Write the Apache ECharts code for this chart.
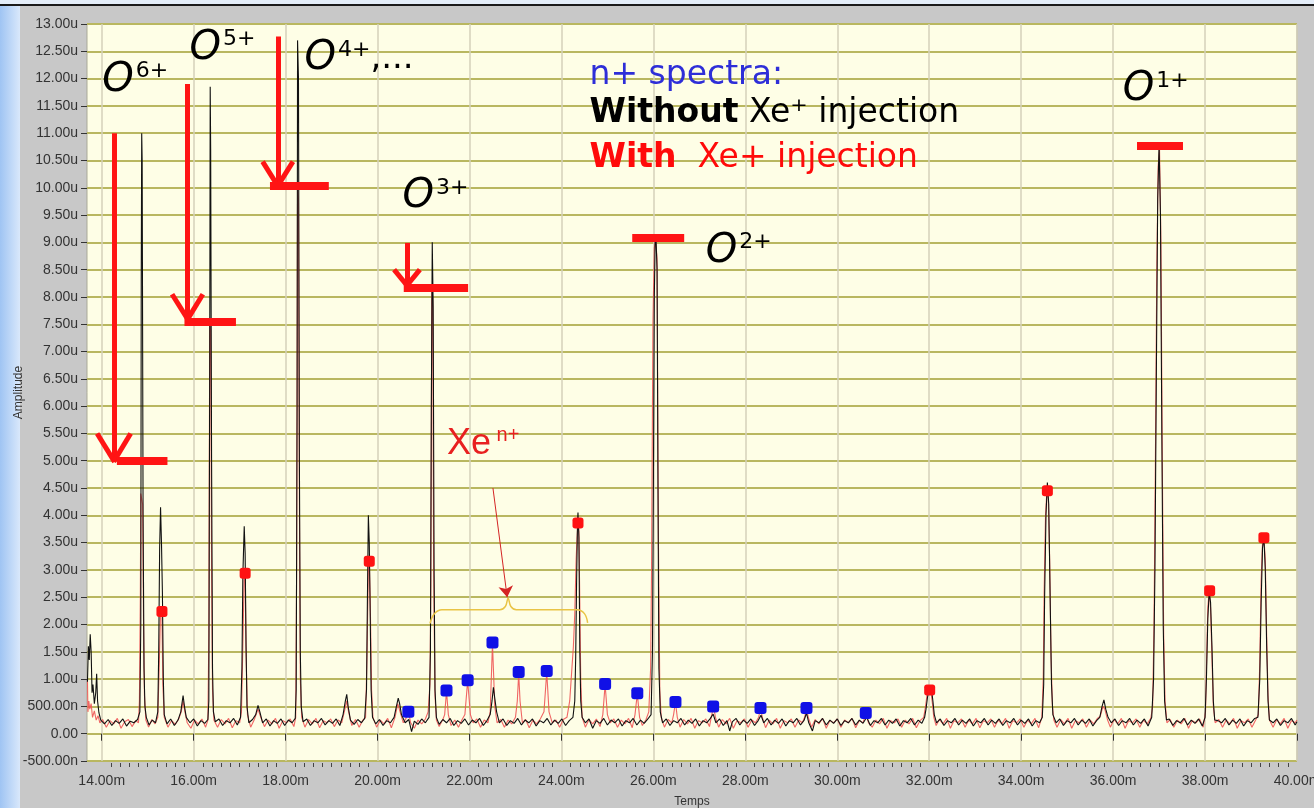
<!DOCTYPE html>
<html><head><meta charset="utf-8">
<script src="https://cdn.jsdelivr.net/npm/echarts@6/dist/echarts.min.js"></script>
<style>html,body{margin:0;padding:0;background:#c8c8c8}#c{width:1314px;height:808px}</style>
</head><body><div id="c"></div>
<script>
// ---- data (time in ms, amplitude in micro-units) ----
const xTickValues = [14,16,18,20,22,24,26,28,30,32,34,36,38,40];

const withoutXe = [
[13.69,0.95],[13.71,1.6],[13.73,1.35],[13.75,1.82],[13.77,1.5],[13.79,0.75],[13.81,0.9],[13.84,0.55],[13.87,0.75],[13.89,1.1],[13.91,0.6],[13.94,0.38],[13.98,0.25],
[14.06,0.18],[14.14,0.26],[14.22,0.15],[14.3,0.24],[14.38,0.19],[14.46,0.27],[14.54,0.14],[14.62,0.23],[14.7,0.2],[14.78,0.26],
[14.83,0.4],[14.85,2.0],[14.86,8.3],[14.87,11.0],[14.88,10.5],[14.9,4.0],[14.92,1.2],[14.94,0.5],[14.97,0.3],
[15.03,0.16],[15.1,0.25],[15.17,0.2],[15.22,0.4],[15.24,1.5],[15.26,3.4],[15.28,4.15],[15.3,3.5],[15.32,2.6],[15.34,1.0],[15.36,0.35],
[15.42,0.18],[15.5,0.27],[15.58,0.15],[15.66,0.25],[15.72,0.4],[15.77,0.7],[15.8,0.5],[15.84,0.3],[15.92,0.2],[16.0,0.27],[16.08,0.14],[16.16,0.24],[16.24,0.19],[16.31,0.26],
[16.33,0.6],[16.35,7.0],[16.36,11.85],[16.37,10.7],[16.39,5.0],[16.41,1.2],[16.43,0.4],[16.47,0.22],
[16.55,0.27],[16.63,0.15],[16.71,0.24],[16.79,0.2],[16.87,0.28],[16.95,0.16],[17.02,0.3],
[17.05,1.2],[17.07,2.9],[17.09,3.5],[17.1,3.8],[17.12,3.3],[17.14,1.6],[17.16,0.5],[17.2,0.2],
[17.28,0.26],[17.35,0.35],[17.4,0.52],[17.44,0.4],[17.5,0.2],[17.58,0.27],[17.66,0.14],[17.74,0.24],[17.82,0.19],[17.9,0.27],[17.98,0.15],[18.06,0.25],[18.14,0.2],[18.21,0.28],
[18.23,0.8],[18.25,6.0],[18.26,12.7],[18.28,12.0],[18.3,5.0],[18.32,1.5],[18.34,0.5],[18.38,0.22],
[18.46,0.27],[18.54,0.15],[18.62,0.24],[18.7,0.2],[18.78,0.28],[18.86,0.16],[18.94,0.24],[19.02,0.19],[19.1,0.27],[19.18,0.15],[19.25,0.35],[19.3,0.6],[19.33,0.72],[19.36,0.5],[19.41,0.25],[19.49,0.17],[19.57,0.26],[19.65,0.2],[19.72,0.28],
[19.76,0.8],[19.78,2.5],[19.8,4.0],[19.82,3.5],[19.84,2.2],[19.86,0.8],[19.89,0.3],
[19.96,0.18],[20.04,0.26],[20.12,0.15],[20.2,0.24],[20.28,0.2],[20.36,0.3],[20.41,0.5],[20.45,0.65],[20.48,0.55],[20.52,0.35],[20.6,0.2],[20.68,0.26],[20.74,0.04],[20.8,0.23],[20.88,0.17],[20.96,0.27],[21.04,0.2],[21.12,0.3],
[21.15,1.5],[21.17,6.0],[21.19,9.0],[21.21,7.8],[21.23,3.0],[21.25,0.8],[21.28,0.3],
[21.34,0.17],[21.42,0.26],[21.5,0.2],[21.58,0.28],[21.66,0.15],[21.74,0.24],[21.82,0.19],[21.9,0.27],[21.98,0.16],[22.06,0.25],[22.14,0.2],[22.22,0.28],[22.3,0.15],[22.38,0.24],[22.45,0.35],[22.49,0.6],[22.52,0.85],[22.55,0.65],[22.59,0.4],[22.65,0.2],
[22.73,0.27],[22.81,0.15],[22.89,0.24],[22.97,0.19],[23.05,0.28],[23.13,0.16],[23.21,0.25],[23.29,0.2],[23.37,0.27],[23.45,0.14],[23.53,0.24],[23.61,0.2],[23.69,0.28],[23.77,0.16],[23.85,0.25],[23.93,0.19],[24.01,0.27],[24.09,0.15],[24.17,0.24],[24.25,0.3],
[24.29,0.6],[24.31,1.4],[24.33,2.8],[24.35,3.9],[24.36,4.05],[24.38,3.6],[24.4,1.5],[24.42,0.6],[24.45,0.3],
[24.52,0.2],[24.6,0.27],[24.68,0.1],[24.76,0.24],[24.84,0.19],[24.92,0.28],[25.0,0.16],[25.08,0.25],[25.16,0.2],[25.24,0.27],[25.32,0.14],[25.4,0.24],[25.48,0.2],[25.56,0.28],[25.64,0.16],[25.72,0.25],[25.8,0.19],[25.88,0.27],[25.95,0.35],
[25.98,1.5],[26.0,4.5],[26.02,8.0],[26.04,9.1],[26.06,9.0],[26.08,8.5],[26.1,4.5],[26.12,1.2],[26.15,0.4],
[26.2,0.2],[26.28,0.27],[26.36,0.15],[26.44,0.24],[26.52,0.2],[26.6,0.28],[26.68,0.16],[26.76,0.25],[26.84,0.19],[26.92,0.27],[27.0,0.14],[27.08,0.24],[27.16,0.2],[27.24,0.28],[27.3,0.36],[27.36,0.2],[27.44,0.27],[27.52,0.15],[27.6,0.24],[27.66,0.05],[27.72,0.22],[27.8,0.28],[27.88,0.16],[27.96,0.25],[28.04,0.19],[28.12,0.27],[28.2,0.15],[28.28,0.24],[28.34,0.34],[28.4,0.2],[28.48,0.28],[28.56,0.16],[28.64,0.25],[28.72,0.19],[28.8,0.27],[28.88,0.14],[28.96,0.24],[29.04,0.2],[29.12,0.28],[29.2,0.16],[29.28,0.25],[29.33,0.38],[29.38,0.2],[29.46,0.05],[29.52,0.24],[29.6,0.2],[29.68,0.28],[29.76,0.16],[29.84,0.25],[29.92,0.19],[30.0,0.27],[30.08,0.15],[30.16,0.24],[30.24,0.2],[30.32,0.28],[30.4,0.16],[30.48,0.25],[30.56,0.19],[30.64,0.3],[30.72,0.15],[30.8,0.24],[30.88,0.2],[30.96,0.28],[31.04,0.16],[31.12,0.25],[31.2,0.19],[31.28,0.27],[31.36,0.14],[31.44,0.24],[31.52,0.2],[31.6,0.28],[31.68,0.16],[31.76,0.25],[31.84,0.19],[31.9,0.3],
[31.93,0.45],[31.96,0.65],[31.99,0.8],[32.02,0.72],[32.05,0.82],[32.08,0.6],[32.11,0.35],[32.16,0.2],
[32.24,0.27],[32.32,0.15],[32.4,0.24],[32.48,0.2],[32.56,0.28],[32.64,0.16],[32.72,0.25],[32.8,0.19],[32.88,0.27],[32.96,0.14],[33.04,0.24],[33.12,0.2],[33.2,0.28],[33.28,0.16],[33.36,0.25],[33.44,0.19],[33.52,0.27],[33.6,0.15],[33.68,0.24],[33.76,0.2],[33.84,0.28],[33.92,0.16],[34.0,0.25],[34.08,0.19],[34.16,0.27],[34.24,0.14],[34.32,0.24],[34.4,0.2],[34.46,0.3],
[34.49,0.9],[34.51,2.5],[34.54,4.0],[34.57,4.6],[34.6,4.2],[34.63,2.5],[34.66,0.9],[34.69,0.35],
[34.76,0.2],[34.84,0.27],[34.92,0.15],[35.0,0.24],[35.08,0.2],[35.16,0.28],[35.24,0.16],[35.32,0.25],[35.4,0.19],[35.48,0.27],[35.56,0.14],[35.64,0.24],[35.71,0.3],[35.76,0.5],[35.8,0.62],[35.84,0.45],[35.89,0.3],[35.96,0.2],[36.04,0.27],[36.12,0.15],[36.2,0.24],[36.28,0.2],[36.36,0.28],[36.44,0.16],[36.52,0.25],[36.6,0.19],[36.68,0.27],[36.76,0.14],[36.84,0.3],
[36.88,1.0],[36.91,3.0],[36.94,6.5],[36.97,9.8],[37.0,10.8],[37.03,9.5],[37.06,5.5],[37.09,2.0],[37.12,0.6],[37.16,0.25],
[37.22,0.27],[37.3,0.15],[37.38,0.24],[37.46,0.2],[37.54,0.28],[37.62,0.16],[37.7,0.25],[37.78,0.19],[37.86,0.27],[37.94,0.14],[38.0,0.3],
[38.03,1.0],[38.06,2.1],[38.09,2.6],[38.12,2.4],[38.15,1.6],[38.18,0.6],[38.21,0.25],
[38.28,0.24],[38.36,0.2],[38.44,0.28],[38.52,0.16],[38.6,0.25],[38.68,0.19],[38.76,0.27],[38.84,0.14],[38.92,0.24],[39.0,0.2],[39.08,0.28],[39.15,0.3],
[39.19,1.0],[39.22,2.4],[39.25,3.4],[39.28,3.6],[39.31,3.0],[39.34,1.6],[39.37,0.6],[39.4,0.25],
[39.48,0.2],[39.56,0.27],[39.64,0.15],[39.72,0.24],[39.8,0.2],[39.88,0.28],[39.96,0.16],[40.0,0.22]
];

const withXe = [
[13.69,1.0],[13.7,0.4],[13.72,0.6],[13.74,0.45],[13.77,0.55],[13.8,0.3],[13.84,0.42],[13.88,0.25],[13.92,0.33],[13.96,0.2],
[14.02,0.26],[14.1,0.12],[14.18,0.24],[14.26,0.18],[14.34,0.28],[14.42,0.1],[14.5,0.22],[14.58,0.26],[14.66,0.13],[14.74,0.24],[14.8,0.2],
[14.82,0.6],[14.84,2.5],[14.85,4.4],[14.87,4.3],[14.89,4.2],[14.91,2.0],[14.93,0.7],[14.96,0.25],
[15.02,0.12],[15.09,0.26],[15.16,0.18],[15.22,0.3],[15.25,1.2],[15.28,2.25],[15.31,2.2],[15.33,0.9],[15.36,0.3],
[15.44,0.12],[15.52,0.24],[15.6,0.17],[15.68,0.28],[15.73,0.4],[15.77,0.6],[15.81,0.4],[15.86,0.2],[15.94,0.1],[16.02,0.25],[16.1,0.18],[16.18,0.27],[16.26,0.12],[16.31,0.25],
[16.33,1.8],[16.35,7.6],[16.37,7.4],[16.39,3.0],[16.41,0.8],[16.44,0.25],
[16.52,0.12],[16.6,0.26],[16.68,0.18],[16.76,0.28],[16.84,0.11],[16.92,0.24],[17.0,0.2],[17.04,0.4],
[17.07,1.6],[17.1,2.9],[17.12,2.95],[17.14,1.5],[17.17,0.35],
[17.24,0.12],[17.32,0.26],[17.4,0.45],[17.46,0.3],[17.54,0.13],[17.62,0.25],[17.7,0.18],[17.78,0.28],[17.86,0.1],[17.94,0.24],[18.02,0.2],[18.1,0.27],[18.18,0.13],[18.22,0.3],
[18.24,3.0],[18.26,10.0],[18.28,9.8],[18.3,4.3],[18.32,1.0],[18.35,0.3],
[18.42,0.12],[18.5,0.26],[18.58,0.18],[18.66,0.28],[18.74,0.11],[18.82,0.24],[18.9,0.2],[18.98,0.27],[19.06,0.13],[19.14,0.25],[19.22,0.2],[19.29,0.45],[19.33,0.6],[19.37,0.4],[19.44,0.15],[19.52,0.26],[19.6,0.12],[19.68,0.25],[19.74,0.3],
[19.77,1.4],[19.8,3.0],[19.82,3.15],[19.84,2.5],[19.87,0.8],[19.9,0.3],
[19.98,0.12],[20.06,0.25],[20.14,0.18],[20.22,0.28],[20.3,0.11],[20.38,0.3],[20.44,0.55],[20.49,0.4],[20.56,0.2],[20.62,0.28],[20.67,0.42],[20.72,0.2],[20.8,0.1],[20.88,0.25],[20.96,0.18],[21.04,0.27],[21.1,0.4],[21.14,0.9],
[21.16,2.7],[21.18,8.15],[21.2,8.0],[21.22,3.0],[21.25,0.7],[21.28,0.25],
[21.34,0.13],[21.42,0.26],[21.46,0.35],[21.5,0.78],[21.54,0.35],[21.6,0.15],[21.68,0.25],[21.76,0.12],[21.84,0.26],[21.9,0.35],[21.96,0.97],[22.02,0.35],[22.08,0.2],[22.16,0.27],[22.24,0.12],[22.32,0.25],[22.4,0.2],[22.45,0.4],[22.5,1.65],[22.55,0.5],[22.6,0.2],[22.68,0.26],[22.76,0.12],[22.84,0.25],[22.92,0.18],[23.0,0.3],[23.04,0.6],[23.07,1.1],[23.1,0.6],[23.15,0.2],[23.22,0.26],[23.3,0.11],[23.38,0.25],[23.46,0.18],[23.54,0.27],[23.62,0.4],[23.68,1.13],[23.73,0.4],[23.8,0.2],[23.88,0.25],[23.96,0.12],[24.04,0.26],[24.12,0.3],[24.18,0.6],[24.22,1.1],[24.26,1.6],
[24.29,2.2],[24.32,3.2],[24.34,3.6],[24.36,3.85],[24.38,3.7],[24.4,2.4],[24.42,1.0],[24.45,0.3],
[24.52,0.12],[24.6,0.26],[24.68,0.18],[24.76,0.27],[24.84,0.13],[24.9,0.35],[24.95,0.9],[25.0,0.35],[25.06,0.2],[25.14,0.27],[25.22,0.12],[25.3,0.25],[25.38,0.18],[25.46,0.28],[25.54,0.11],[25.6,0.35],[25.65,0.73],[25.7,0.3],[25.76,0.15],[25.84,0.26],[25.9,0.4],[25.94,1.2],
[25.96,3.0],[25.99,7.5],[26.02,8.9],[26.05,9.05],[26.08,8.7],[26.11,3.5],[26.14,0.8],[26.17,0.3],
[26.24,0.12],[26.32,0.26],[26.4,0.2],[26.44,0.35],[26.48,0.58],[26.52,0.3],[26.58,0.12],[26.66,0.26],[26.74,0.18],[26.82,0.28],[26.9,0.1],[26.98,0.24],[27.06,0.2],[27.14,0.27],[27.22,0.13],[27.27,0.35],[27.31,0.5],[27.35,0.3],[27.42,0.12],[27.5,0.26],[27.58,0.18],[27.66,0.28],[27.74,0.1],[27.82,0.24],[27.9,0.2],[27.98,0.27],[28.06,0.12],[28.14,0.25],[28.22,0.2],[28.29,0.3],[28.33,0.47],[28.37,0.3],[28.44,0.11],[28.52,0.25],[28.6,0.18],[28.68,0.28],[28.76,0.1],[28.84,0.24],[28.92,0.2],[29.0,0.27],[29.08,0.12],[29.16,0.25],[29.24,0.2],[29.29,0.3],[29.33,0.47],[29.37,0.3],[29.44,0.12],[29.52,0.26],[29.6,0.18],[29.68,0.28],[29.76,0.1],[29.84,0.24],[29.92,0.2],[30.0,0.27],[30.08,0.12],[30.16,0.25],[30.24,0.2],[30.32,0.28],[30.4,0.11],[30.48,0.24],[30.56,0.2],[30.62,0.37],[30.68,0.2],[30.76,0.12],[30.84,0.25],[30.92,0.18],[31.0,0.28],[31.08,0.1],[31.16,0.24],[31.24,0.2],[31.32,0.27],[31.4,0.12],[31.48,0.25],[31.56,0.18],[31.64,0.28],[31.72,0.11],[31.8,0.24],[31.88,0.3],
[31.92,0.5],[31.95,0.7],[31.98,0.8],[32.01,0.82],[32.04,0.75],[32.07,0.55],[32.1,0.3],[32.15,0.15],
[32.22,0.26],[32.3,0.18],[32.38,0.28],[32.46,0.1],[32.54,0.24],[32.62,0.2],[32.7,0.27],[32.78,0.12],[32.86,0.25],[32.94,0.18],[33.02,0.28],[33.1,0.11],[33.18,0.24],[33.26,0.2],[33.34,0.27],[33.42,0.12],[33.5,0.25],[33.58,0.18],[33.66,0.28],[33.74,0.1],[33.82,0.24],[33.9,0.2],[33.98,0.27],[34.06,0.12],[34.14,0.25],[34.22,0.18],[34.3,0.28],[34.38,0.11],[34.45,0.3],
[34.48,1.0],[34.5,2.6],[34.53,4.0],[34.56,4.45],[34.59,4.3],[34.62,3.2],[34.65,1.4],[34.68,0.5],[34.71,0.25],
[34.78,0.12],[34.86,0.26],[34.94,0.18],[35.02,0.28],[35.1,0.1],[35.18,0.24],[35.26,0.2],[35.34,0.27],[35.42,0.12],[35.5,0.25],[35.58,0.18],[35.66,0.28],[35.72,0.32],[35.78,0.5],[35.82,0.45],[35.88,0.25],[35.94,0.12],[36.02,0.26],[36.1,0.18],[36.18,0.28],[36.26,0.1],[36.34,0.24],[36.42,0.2],[36.5,0.27],[36.58,0.12],[36.66,0.25],[36.74,0.18],[36.82,0.28],[36.86,0.5],
[36.89,2.0],[36.92,5.0],[36.95,8.5],[36.98,10.4],[37.01,10.7],[37.04,9.0],[37.07,5.0],[37.1,1.8],[37.13,0.6],[37.17,0.2],
[37.24,0.26],[37.32,0.12],[37.4,0.25],[37.48,0.18],[37.56,0.28],[37.64,0.1],[37.72,0.24],[37.8,0.2],[37.88,0.27],[37.96,0.12],[38.01,0.4],
[38.03,1.2],[38.06,2.3],[38.09,2.62],[38.12,2.3],[38.15,1.4],[38.18,0.5],[38.22,0.2],
[38.3,0.26],[38.38,0.12],[38.46,0.25],[38.54,0.18],[38.62,0.28],[38.7,0.1],[38.78,0.24],[38.86,0.2],[38.94,0.27],[39.02,0.12],[39.1,0.25],[39.16,0.35],
[39.19,1.3],[39.22,2.8],[39.25,3.5],[39.28,3.59],[39.31,3.2],[39.34,1.8],[39.37,0.7],[39.4,0.25],
[39.48,0.12],[39.56,0.26],[39.64,0.18],[39.72,0.28],[39.8,0.1],[39.88,0.24],[39.96,0.2],[40.0,0.25]
];

// O peaks with Xe (red squares) and Xe peaks (blue squares)
const oPeakMarkers = [[15.31,2.24],[17.12,2.94],[19.82,3.16],[24.36,3.86],[32.01,0.8],[34.57,4.45],[38.1,2.62],[39.28,3.59]];
const xePeakMarkers = [[20.67,0.4],[21.5,0.79],[21.96,0.98],[22.5,1.67],[23.07,1.13],[23.68,1.15],[24.95,0.91],[25.65,0.74],[26.48,0.58],[27.3,0.5],[28.33,0.47],[29.33,0.47],[30.62,0.38]];

const ionNames = ['6+','5+','4+','3+','2+','1+'];

// ---- chart ----
const chart = echarts.init(document.getElementById('c'), null, {renderer:'canvas'});

function fmtY(v){
  if (Math.abs(v) < 1e-9) return '0.00';
  if (Math.abs(v) < 1) return (v*1000).toFixed(2) + 'n';
  return v.toFixed(2) + 'u';
}
const minorTicks = [];
for (let i = 0; i <= 130; i++) { const t = +(14 + i*0.2).toFixed(2); if (Math.abs(t/2 - Math.round(t/2)) > 1e-6) minorTicks.push(t); }

const RED = '#ff1414';
function seg(a, b, w){ return {coords:[a,b], lineStyle:{width:w}}; }
const arrowSegs = [
  // O6+
  seg([14.27,11.0],[14.27,5.05],5), seg([13.9,5.5],[14.28,4.98],5), seg([14.63,5.5],[14.26,4.98],5), seg([14.33,5.0],[15.43,5.0],8),
  // O5+
  seg([15.87,11.9],[15.87,7.65],5), seg([15.53,8.05],[15.88,7.58],5), seg([16.2,8.05],[15.86,7.58],5), seg([15.8,7.55],[16.92,7.55],8),
  // O4+
  seg([17.83,12.77],[17.83,10.1],5), seg([17.5,10.48],[17.84,10.02],5), seg([18.16,10.48],[17.82,10.02],5), seg([17.66,10.03],[18.94,10.03],8),
  // O3+
  seg([20.64,8.99],[20.64,8.27],5), seg([20.36,8.5],[20.65,8.2],5), seg([20.92,8.5],[20.63,8.2],5), seg([20.57,8.17],[21.97,8.17],8),
  // O2+
  seg([25.54,9.08],[26.67,9.08],8),
  // O1+
  seg([36.52,10.77],[37.52,10.77],8)
];

const supTop = {fontSize:22, fontFamily:'DejaVu Sans', color:'#000', verticalAlign:'top', padding:[0,0,0,2]};
const oStyle = {fontSize:40, fontFamily:'DejaVu Sans', fontStyle:'italic', color:'#000'};
function ion(t, v, sup, extra){
  return {value:[t,v], label:{formatter:'{o|O}{s|' + sup + '}' + (extra ? '{c|' + extra + '}' : '')}};
}
const ionLabelData = [
  ion(14.0,11.96,ionNames[0]), ion(15.9,12.55,ionNames[1]), ion(18.4,12.36,ionNames[2],',...'),
  ion(20.53,9.83,ionNames[3]), ion(27.13,8.83,ionNames[4]), ion(36.2,11.79,ionNames[5])
];

const legendData = [
  {value:[24.6,12.06], label:{formatter:'{b|n+ spectra:}'}},
  {value:[24.6,11.36], label:{formatter:'{k|Without}{n| Xe\u207A injection}'}},
  {value:[24.6,10.53], label:{formatter:'{r|With}{rn|  Xe+ injection}'}}
];

const brace = [[21.14,2.02],[21.24,2.2],[21.4,2.27],[22.66,2.27],[22.78,2.33],[22.84,2.48],[22.9,2.33],[23.02,2.27],[24.34,2.27],[24.5,2.2],[24.57,2.03]];

const textHolder = {color:'transparent', opacity:1};

const option = {
  backgroundColor:'#c8c8c8',
  animation:false,
  textStyle:{fontFamily:'Liberation Sans'},
  graphic:[
    {type:'rect', left:0, top:0, z:-10, shape:{width:20, height:808}, style:{fill:new echarts.graphic.LinearGradient(0,0,1,0,[{offset:0,color:'#9fc4f3'},{offset:1,color:'#d9e8fb'}])}},
    {type:'rect', left:0, top:0, z:-10, shape:{width:1314, height:4}, style:{fill:'#e4edf8'}},
    {type:'rect', left:0, top:4, z:-10, shape:{width:1314, height:2}, style:{fill:'#1a1a1a'}}
  ],
  grid:{left:87, right:17, top:24, bottom:47, outerBoundsMode:'none', containLabel:false, show:true, backgroundColor:'#fefee6', borderColor:'#a9a998', borderWidth:1},
  xAxis:[{
    type:'value', min:13.68, max:40, position:'bottom', offset:2,
    name:'Temps', nameLocation:'middle', nameGap:33, nameMoveOverlap:false,
    nameTextStyle:{fontSize:12, color:'#333', fontFamily:'Liberation Sans'},
    axisLine:{show:false},
    axisTick:{show:true, length:7, customValues:xTickValues, lineStyle:{color:'#333', width:1}},
    axisLabel:{customValues:xTickValues, formatter:v => v.toFixed(2) + 'm', fontSize:14, color:'#333', margin:11, hideOverlap:false},
    splitLine:{show:true, lineStyle:{color:'#d4d1ba', width:1.5}}
  },{
    type:'value', min:13.68, max:40, position:'bottom', offset:2,
    axisLine:{show:false},
    axisTick:{show:true, length:4, customValues:minorTicks, lineStyle:{color:'#444', width:1}},
    axisLabel:{show:false}, splitLine:{show:false}
  }],
  yAxis:{
    type:'value', min:-0.5, max:13, interval:0.5,
    name:'Amplitude', nameLocation:'middle', nameGap:62, nameRotate:90, nameMoveOverlap:false,
    nameTextStyle:{fontSize:12, color:'#333', fontFamily:'Liberation Sans'},
    axisLine:{show:false},
    axisTick:{show:true, length:6, lineStyle:{color:'#333'}},
    axisLabel:{formatter:fmtY, fontSize:14, color:'#333', margin:9, hideOverlap:false},
    splitLine:{show:true, lineStyle:{color:'#b9b760', width:2}}
  },
  series:[
    {type:'line', name:'With Xe+ injection', data:withXe, showSymbol:false, symbol:'none', z:2,
     lineStyle:{color:'#ee5555', width:1.1, opacity:0.9}},
    {type:'line', name:'Without Xe+ injection', data:withoutXe, showSymbol:false, symbol:'none', z:3,
     lineStyle:{color:'#111', width:1.1}},
    {type:'scatter', data:oPeakMarkers, symbol:'roundRect', symbolSize:11, z:5, itemStyle:{color:'#ff1212', opacity:1}},
    {type:'scatter', data:xePeakMarkers, symbol:'roundRect', symbolSize:12, z:5, itemStyle:{color:'#1010e6', opacity:1}},
    {type:'lines', coordinateSystem:'cartesian2d', z:6, data:arrowSegs, lineStyle:{color:RED, opacity:1, cap:'butt'}},
    {type:'line', data:brace, smooth:0.4, showSymbol:false, symbol:'none', z:4, lineStyle:{color:'#e9c445', width:1.5}},
    {type:'lines', coordinateSystem:'cartesian2d', z:6, symbol:['none','arrow'], symbolSize:11,
     data:[{coords:[[22.51,4.5],[22.82,2.5]]}], lineStyle:{color:'#d42424', width:1, opacity:1}},
    {type:'scatter', data:ionLabelData, symbolSize:1, z:7, itemStyle:textHolder,
     label:{show:true, position:'right', distance:0, rich:{o:oStyle, s:supTop, c:{fontSize:34, fontFamily:'DejaVu Sans', color:'#000'}}}},
    {type:'scatter', data:legendData, symbolSize:1, z:7, itemStyle:textHolder,
     label:{show:true, position:'right', distance:0, rich:{
       b:{fontSize:33, fontFamily:'DejaVu Sans', color:'#2e2ed8'},
       k:{fontSize:33, fontFamily:'DejaVu Sans', fontWeight:'bold', color:'#000'},
       n:{fontSize:33, fontFamily:'DejaVu Sans', color:'#000'},
       r:{fontSize:33, fontFamily:'DejaVu Sans', fontWeight:'bold', color:'#ff0a0a'},
       rn:{fontSize:33, fontFamily:'DejaVu Sans', color:'#ff0a0a'}
     }}},
    {type:'scatter', data:[{value:[21.5,5.31], label:{formatter:'{x|Xe}{s| n+}'}}], symbolSize:1, z:7, itemStyle:textHolder,
     label:{show:true, position:'right', distance:0, rich:{
       x:{fontSize:36, fontFamily:'Liberation Sans', color:'#e82020'},
       s:{fontSize:20, fontFamily:'Liberation Sans', color:'#e82020', verticalAlign:'top'}
     }}}
  ]
};
chart.setOption(option);
</script>
</body></html>
